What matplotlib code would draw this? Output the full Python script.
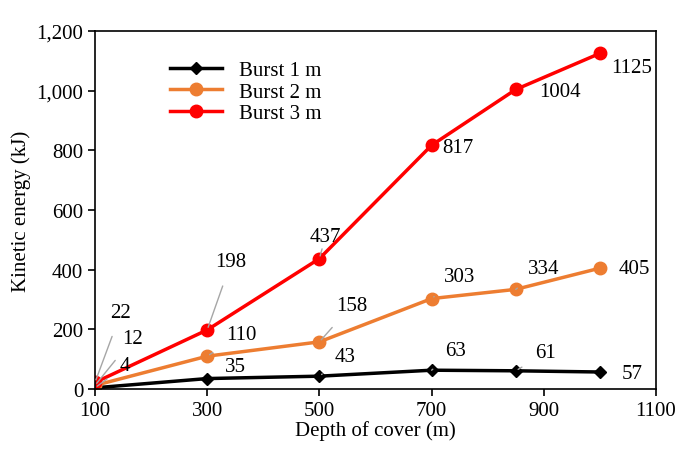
import matplotlib
matplotlib.use("Agg")
import matplotlib.pyplot as plt

plt.rcParams["font.family"] = "Liberation Serif"

depth = [100, 300, 500, 700, 850, 1000]
burst1 = [4, 35, 43, 63, 61, 57]
burst2 = [12, 110, 158, 303, 334, 405]
burst3 = [22, 198, 437, 817, 1004, 1125]

off1 = [(30, 22), (28, 12), (26, 20), (24, 20), (30, 18), (32, -2)]
off2 = [(38, 47), (34, 22), (32, 36), (28, 22), (28, 21), (34, 0)]
off3 = [(26, 70), (24, 68), (6, 22), (26, -2), (44, -2), (32, -14)]

fig = plt.figure(figsize=(7, 4.52), dpi=100)
ax = fig.add_axes([95/700, 62/452, 561/700, 358/452])

ax.plot(depth, burst1, color="black", marker="D", ms=6, lw=2.5, label="Burst 1 m")
ax.plot(depth, burst2, color="#ED7D31", marker="o", ms=9, lw=2.5, label="Burst 2 m")
ax.plot(depth, burst3, color="#FF0000", marker="o", ms=9, lw=2.5, label="Burst 3 m")

for ys, offs in ((burst1, off1), (burst2, off2), (burst3, off3)):
    for x, y, (dx, dy) in zip(depth, ys, offs):
        lead = abs(dy) > 15
        ax.annotate(str(y), (x, y), xytext=(dx, dy), textcoords="offset pixels",
                    ha="center", va="center", fontsize=15,
                    arrowprops=dict(arrowstyle="-", color="#A6A6A6", lw=1,
                                    shrinkA=9, shrinkB=2) if lead else None)

ax.set_xlim(100, 1100)
ax.set_ylim(0, 1200)
ax.set_xticks(range(100, 1101, 200))
ax.set_yticks(range(0, 1201, 200))
ax.set_yticklabels([f"{v:,}" for v in range(0, 1201, 200)])
ax.tick_params(labelsize=15, direction="out", length=5, width=1.2)
for s in ax.spines.values():
    s.set_linewidth(1.2)
ax.set_xlabel("Depth of cover (m)", fontsize=15, labelpad=0)
ax.set_ylabel("Kinetic energy (kJ)", fontsize=15, labelpad=4)
ax.legend(loc="upper left", bbox_to_anchor=(0.1, 0.97), frameon=False,
          fontsize=15, handlelength=2.5, labelspacing=0.1)

fig.savefig("out.png", dpi=100)
